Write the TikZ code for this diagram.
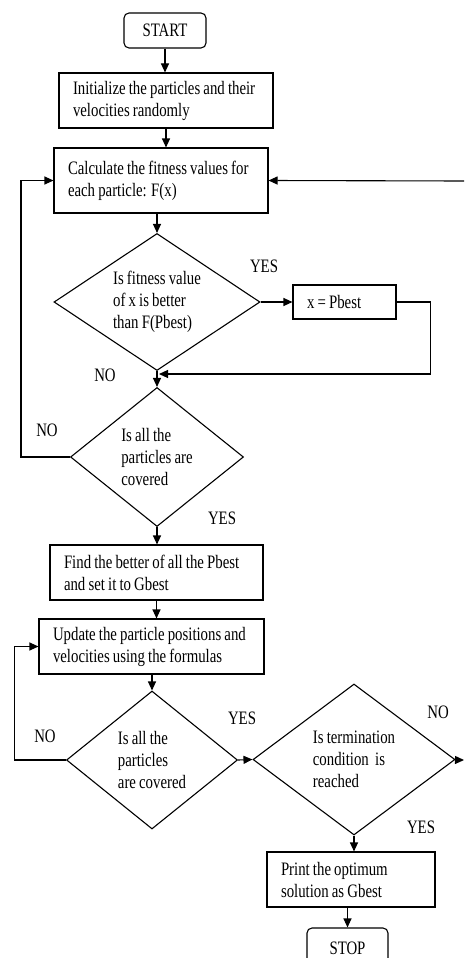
\documentclass[tikz,border=0pt]{standalone}
\usepackage{fontspec}
\setmainfont{Liberation Serif}[FakeStretch=0.78, WordSpace=0.85]
\usetikzlibrary{arrows.meta}
\usetikzlibrary{shapes.geometric}
\newcommand{\chartfont}{\fontsize{19}{22}\selectfont}

\begin{document}
\begin{tikzpicture}[x=1pt, y=-1pt, line width=1.1pt,
    every node/.style={font=\chartfont},
    box/.style={draw, rectangle, align=flush left, inner xsep=14pt, inner ysep=0pt},
    term/.style={draw, rectangle, rounded corners=5pt, align=center},
    test/.style={draw, diamond, aspect=1.3, inner sep=0pt, align=left},
    arr/.style={-{Triangle[length=9pt,width=8pt]}}]
    \clip (0, 0) rectangle (464, 958);

    \node [term, minimum width=82pt, minimum height=35pt] (start) at (165, 30.5) {START};
    \node [box, text width=186pt, minimum height=55pt] (init) at (166, 100.5) {Initialize the particles and their\\velocities randomly};
    \node [box, text width=186pt, minimum height=65pt] (calc) at (161, 180.5) {Calculate the fitness values for\\each particle: F(x)};
    \node [test, minimum width=206pt, minimum height=137pt] (dec1) at (157, 302) {Is fitness value\\of x is better\\than F(Pbest)};
    \node [box, text width=75pt, minimum height=34pt] (pbest) at (344.5, 302) {x = Pbest};
    \node [test, minimum width=173pt, minimum height=139pt] (dec2) at (157, 457) {Is all the\\particles are\\covered};
    \node [box, text width=185pt, minimum height=55pt] (find) at (156.5, 572.5) {Find the better of all the Pbest\\and set it to Gbest};
    \node [box, text width=197pt, minimum height=55pt] (update) at (151.5, 646.5) {Update the particle positions and\\velocities using the formulas};
    \node [test, minimum width=171pt, minimum height=138pt] (dec3) at (152, 760) {Is all the\\particles\\are covered};
    \node [test, minimum width=202pt, minimum height=151pt] (dec4) at (354, 759.5) {Is termination\\condition\ \ is\\reached};
    \node [box, text width=140pt, minimum height=55pt] (print) at (351, 879.5) {Print the optimum\\solution as Gbest};
    \node [term, minimum width=81pt, minimum height=40pt] (stop) at (347.5, 948) {STOP};

    \node (yes1) at (264, 266) {YES};
    \node (no1) at (105, 375) {NO};
    \node (no2) at (47, 430) {NO};
    \node (yes2) at (222, 518) {YES};
    \node (yes3) at (242, 718) {YES};
    \node (no3) at (45, 736) {NO};
    \node (no4) at (438, 712) {NO};
    \node (yes4) at (421, 827) {YES};

    \coordinate (rin) at (464, 181);
    \coordinate (rout) at (464, 760);
    \coordinate (merge) at (157, 374);

    \draw [arr] (start) -- (start |- init.north);
    \draw [arr] (init) -- (init |- calc.north);
    \draw [arr] (calc.south -| dec1.north) -- (dec1.north);
    \draw [arr] (dec1) -- (pbest);
    \draw [arr, shorten >=2pt] (pbest.east) -- ++(34, 0) |- (merge);
    \draw [arr] (dec1) -- (dec2);
    \draw [arr] (dec2.west) -- ++(-49, 0) |- (calc.west);
    \draw [arr] (rin) -- (calc.east);
    \draw [arr] (dec2) -- (dec2 |- find.north);
    \draw [arr] (find) -- (find |- update.north);
    \draw [arr] (update.south -| dec3.north) -- (dec3.north);
    \draw [arr] (dec3.west) -- ++(-51.5, 0) |- (update.west);
    \draw [arr] (dec3.east) -- (dec4.west);
    \draw [arr] (dec4) -- (rout);
    \draw [arr] (dec4) -- (dec4 |- print.north);
    \draw [arr] (print.south -| stop.north) -- (stop.north);
\end{tikzpicture}
\end{document}
